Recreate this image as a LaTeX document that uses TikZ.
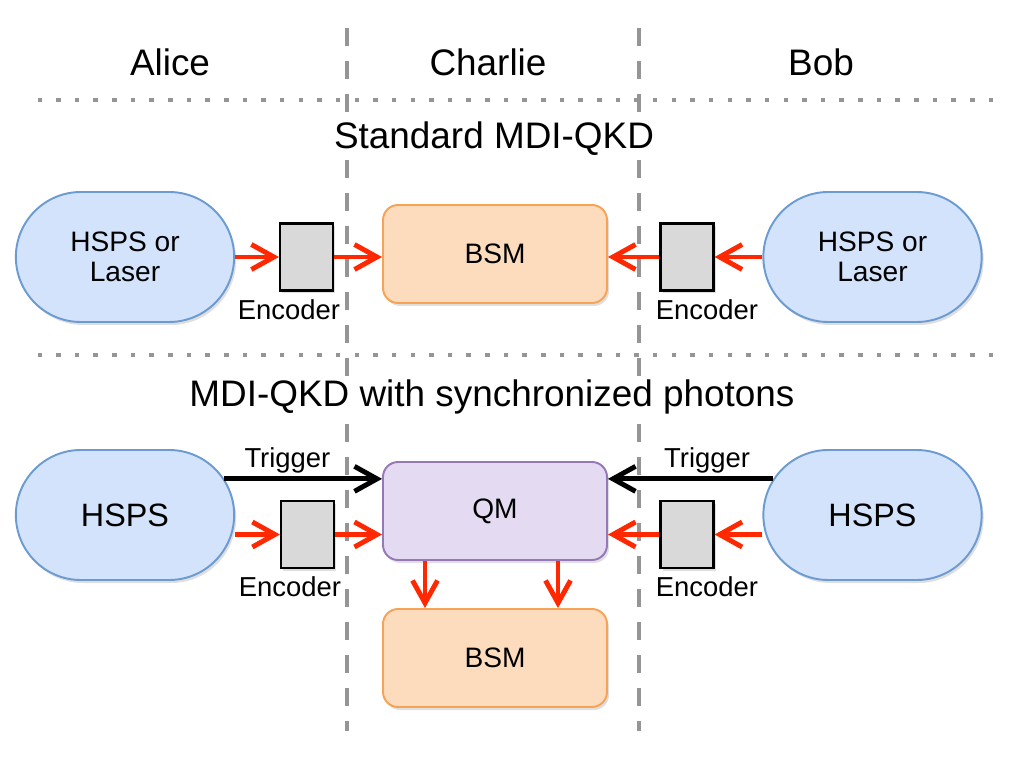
\documentclass[tikz,border=0pt]{standalone}
\usepackage{fontspec}
\setmainfont{Liberation Sans}
\usetikzlibrary{positioning,shapes.misc,arrows.meta,shadows}
\definecolor{srcfill}{HTML}{D3E3FB}
\definecolor{srcline}{HTML}{6C9BD2}
\definecolor{bsmfill}{HTML}{FDDBBD}
\definecolor{bsmline}{HTML}{F6A358}
\definecolor{qmfill}{HTML}{E4DAF2}
\definecolor{qmline}{HTML}{9678B6}
\definecolor{encfill}{HTML}{D9D9D9}
\definecolor{beamred}{RGB}{255,40,0}
\definecolor{divgray}{HTML}{959595}

\begin{document}
\begin{tikzpicture}[
myshadow/.style={
  drop shadow={opacity=0.25,shadow xshift=0.04cm,shadow yshift=-0.06cm}},
srcbox/.style={
  draw=srcline,
  fill=srcfill,
  rounded rectangle,
  line width=1.1pt,
  minimum width=4.6cm,
  minimum height=2.6cm,
  align=center,
  myshadow},
centrebox/.style={
  draw,
  rectangle,
  rounded corners=0.3cm,
  line width=1.1pt,
  minimum width=4.48cm,
  minimum height=1.96cm,
  font=\fontsize{16}{19}\selectfont,
  myshadow},
encbox/.style={
  draw=black,
  fill=encfill,
  line width=1.2pt,
  minimum width=1.06cm,
  minimum height=1.34cm,
  inner sep=0pt,
  myshadow},
enclabel/.style={
  font=\fontsize{15.6}{18}\selectfont,
  inner sep=2pt},
beam/.style={
  draw=beamred,
  line width=2.8pt,
  -{Straight Barb[length=0.45cm,width=0.5cm]}},
trigbeam/.style={
  draw=black,
  line width=2.8pt,
  -{Straight Barb[length=0.45cm,width=0.5cm]}},
headline/.style={
  font=\fontsize{21}{25}\selectfont,
  fill=white,
  inner sep=2pt},
sepline/.style={
  divgray,
  line width=0.09cm,
  dash pattern=on 0.09cm off 0.283cm},
divline/.style={
  divgray,
  line width=0.09cm,
  dash pattern=on 0.36cm off 0.3cm}
]
\useasboundingbox (0,0) rectangle (20.5,15.18);

% party borders
\draw[divline] (6.94,14.62) -- (6.94,0.56);
\draw[divline] (12.78,14.62) -- (12.78,0.56);
\draw[sepline] (0.75,13.18) -- (20.0,13.18);
\draw[sepline] (0.75,8.08) -- (20.0,8.08);

% headings
\node[headline,fill=none] (alice) at (3.4,13.94) {Alice};
\node[headline,fill=none] (charlie) at (9.76,13.94) {Charlie};
\node[headline,fill=none] (bob) at (16.42,13.94) {Bob};
\node[headline] (stdtitle) at (9.88,12.41) {Standard MDI-QKD};
\node[headline] (synctitle) at (9.84,7.24) {MDI-QKD with synchronized photons};

% standard MDI-QKD
\node[srcbox,font=\fontsize{16}{17}\selectfont] (hspsA) at (2.5,10.04) {HSPS or\\Laser};
\node[encbox] (encA) at (6.13,10.04) {};
\node[centrebox,draw=bsmline,fill=bsmfill] (bsmA) at (9.9,10.1) {BSM};
\node[encbox] (encC) at (13.74,10.04) {};
\node[srcbox,font=\fontsize{16}{17}\selectfont] (hspsC) at (17.45,10.04) {HSPS or\\Laser};
\node[enclabel,below=0.08cm of encA,xshift=-0.35cm] {Encoder};
\node[enclabel,below=0.08cm of encC,xshift=0.4cm] {Encoder};

\draw[beam] (hspsA.east) -- (encA.west);
\draw[beam] (encA.east) -- (encA.east -| bsmA.west);
\draw[beam] (hspsC.west) -- (encC.east);
\draw[beam] (encC.west) -- (encC.west -| bsmA.east);

% synchronized photons
\node[srcbox,font=\fontsize{18.4}{22}\selectfont] (hspsB) at (2.5,4.88) {HSPS};
\node[encbox] (encB) at (6.15,4.49) {};
\node[centrebox,draw=qmline,fill=qmfill] (qmBox) at (9.9,4.96) {QM};
\node[encbox] (encD) at (13.74,4.49) {};
\node[srcbox,font=\fontsize{18.4}{22}\selectfont] (hspsD) at (17.45,4.88) {HSPS};
\node[centrebox,draw=bsmline,fill=bsmfill] (bsmB) at (9.9,2.02) {BSM};
\node[enclabel,below=0.08cm of encB,xshift=-0.35cm] {Encoder};
\node[enclabel,below=0.08cm of encD,xshift=0.4cm] {Encoder};

\draw[trigbeam] (hspsB.20) -- (qmBox.west |- hspsB.20)
  node[enclabel,above,pos=0.4] {Trigger};
\draw[trigbeam] (hspsD.160) -- (qmBox.east |- hspsD.160)
  node[enclabel,above,pos=0.4] {Trigger};
\draw[beam] (encB.west -| hspsB.east) -- (encB.west);
\draw[beam] (encB.east) -- (encB.east -| qmBox.west);
\draw[beam] (encD.east -| hspsD.west) -- (encD.east);
\draw[beam] (encD.west) -- (encD.west -| qmBox.east);
\draw[beam] ([xshift=-1.4cm]qmBox.south) -- ([xshift=-1.4cm]bsmB.north);
\draw[beam] ([xshift=1.26cm]qmBox.south) -- ([xshift=1.26cm]bsmB.north);
\end{tikzpicture}
\end{document}
